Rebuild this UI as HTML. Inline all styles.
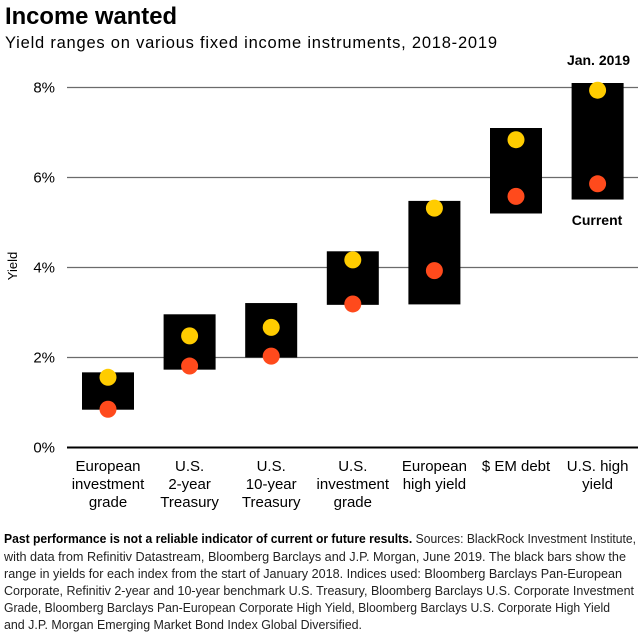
<!DOCTYPE html>
<html><head><meta charset="utf-8"><style>
html,body{margin:0;padding:0;background:#fff;}
svg{display:block;font-family:"Liberation Sans",sans-serif;}
</style></head><body>
<svg id="chart" width="640" height="640" viewBox="0 0 640 640">
<text x="5" y="24" font-size="24" font-weight="bold" fill="#000" textLength="172" lengthAdjust="spacingAndGlyphs">Income wanted</text>
<text x="5" y="48" font-size="16.5" fill="#000" textLength="492">Yield ranges on various fixed income instruments, 2018-2019</text>
<text transform="translate(17,266) rotate(-90)" font-size="13" text-anchor="middle" fill="#000">Yield</text>
<g id="grid"></g>
<g id="bars"></g>
<g id="xlabels"></g>
<text x="630" y="65" font-size="14" font-weight="bold" text-anchor="end" fill="#000">Jan. 2019</text>
<text x="597" y="225" font-size="14" font-weight="bold" text-anchor="middle" fill="#000">Current</text>
<g font-size="12.5" fill="#222">
<text x="4" y="543" textLength="632" lengthAdjust="spacingAndGlyphs"><tspan font-weight="bold" fill="#000">Past performance is not a reliable indicator of current or future results.</tspan> Sources: BlackRock Investment Institute,</text>
<text x="4" y="561" textLength="622" lengthAdjust="spacingAndGlyphs">with data from Refinitiv Datastream, Bloomberg Barclays and J.P. Morgan, June 2019. The black bars show the</text>
<text x="4" y="578" textLength="618" lengthAdjust="spacingAndGlyphs">range in yields for each index from the start of January 2018. Indices used: Bloomberg Barclays Pan-European</text>
<text x="4" y="595" textLength="630" lengthAdjust="spacingAndGlyphs">Corporate, Refinitiv 2-year and 10-year benchmark U.S. Treasury, Bloomberg Barclays U.S. Corporate Investment</text>
<text x="4" y="612" textLength="606" lengthAdjust="spacingAndGlyphs">Grade, Bloomberg Barclays Pan-European Corporate High Yield, Bloomberg Barclays U.S. Corporate High Yield</text>
<text x="4" y="629" textLength="358" lengthAdjust="spacingAndGlyphs">and J.P. Morgan Emerging Market Bond Index Global Diversified.</text>
</g>
</svg>
<script>
const categories=[["European","investment","grade"],["U.S.","2-year","Treasury"],["U.S.","10-year","Treasury"],["U.S.","investment","grade"],["European","high yield"],["$ EM debt"],["U.S. high","yield"]];
const rangeLow=[0.84,1.73,2.0,3.17,3.18,5.2,5.51];
const rangeHigh=[1.67,2.96,3.21,4.36,5.48,7.1,8.1];
const jan2019=[1.56,2.48,2.67,4.17,5.32,6.84,7.94];
const current=[0.85,1.81,2.03,3.19,3.93,5.58,5.86];
const yTicks=[0,2,4,6,8];
const yTickLabels=["0%","2%","4%","6%","8%"];

const NS="http://www.w3.org/2000/svg";
const y=v=>447.5-v*45;
const x=i=>108+i*81.6;
const BW=52;
function mk(tag,attrs,parent){const e=document.createElementNS(NS,tag);for(const k in attrs)e.setAttribute(k,attrs[k]);parent.appendChild(e);return e;}
const grid=document.getElementById('grid');
yTicks.forEach((t,i)=>{
  const l=mk('line',{x1:67,x2:638,y1:y(t),y2:y(t),stroke:t===0?'#000':'#6b6b6b','stroke-width':t===0?2:1.3},grid);
  
  
  const tx=mk('text',{x:55,y:y(t)+5,'font-size':15,'text-anchor':'end',fill:'#000'},grid);
  tx.textContent=yTickLabels[i];
  
  
});
const bars=document.getElementById('bars');
const xl=document.getElementById('xlabels');
categories.forEach((c,i)=>{
  const r=mk('rect',{x:x(i)-BW/2,y:y(rangeHigh[i]),width:BW,height:y(rangeLow[i])-y(rangeHigh[i]),fill:'#000'},bars);
  
  
  const a=mk('circle',{cx:x(i),cy:y(jan2019[i]),r:8.5,fill:'#ffcc00'},bars);
  
  
  const b=mk('circle',{cx:x(i),cy:y(current[i]),r:8.5,fill:'#ff4a1c'},bars);
  
  
  const t=mk('text',{x:x(i),'font-size':15,'text-anchor':'middle',fill:'#000'},xl);
  
  
  c.forEach((line,j)=>{const s=mk('tspan',{x:x(i),y:471+j*18},t);s.textContent=line;});
});
</script>
</body></html>
